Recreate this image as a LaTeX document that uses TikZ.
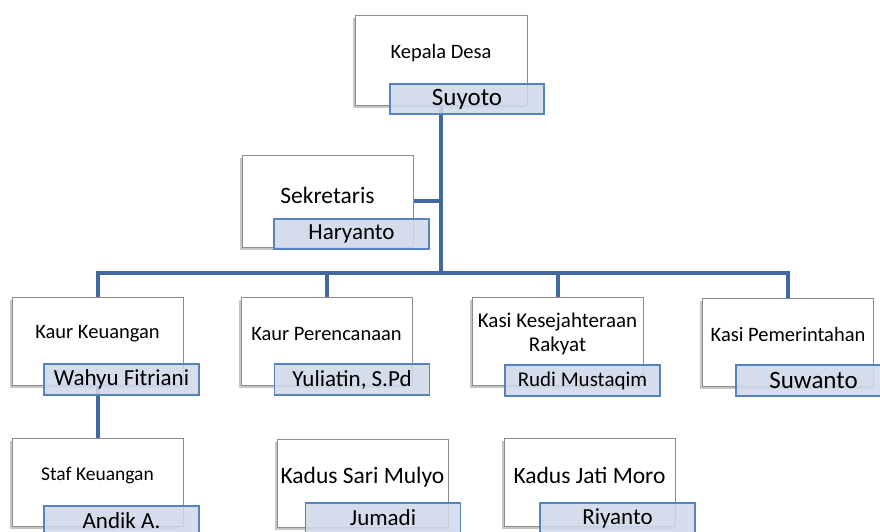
\documentclass[tikz,border=0pt]{standalone}
\usepackage{fontspec}
\setmainfont{Carlito}
\usetikzlibrary{shadows, backgrounds}

\definecolor{linkblue}{RGB}{66,104,160}
\definecolor{namefill}{RGB}{208,216,233}
\definecolor{nameline}{RGB}{84,132,192}

\tikzset{
  posbox/.style={draw=gray!90, fill=white, line width=0.9pt, minimum width=171pt, minimum height=88pt,
    drop shadow={shadow xshift=-2.5pt, shadow yshift=-2.5pt, opacity=.45}},
  namebox/.style={draw=nameline, fill=namefill, fill opacity=.88, text opacity=1, line width=1.1pt,
    minimum width=155pt, minimum height=30pt, inner sep=0pt},
  title/.style={align=center, inner sep=0pt},
  link/.style={draw=linkblue, line width=4pt}
}

\begin{document}
\begin{tikzpicture}[x=1pt, y=-1pt]
  \useasboundingbox (0,0) rectangle (880,531);

  % kepala desa dan sekretaris
  \node (kades) at (441,60) [posbox, minimum width=172pt, minimum height=90pt] {};
  \node (kades-t) at ([yshift=7pt]kades.center) [title, font=\fontsize{20.5}{24}\selectfont] {Kepala Desa};
  \node (kades-n) at (467,99) [namebox, minimum width=154pt, font=\fontsize{25}{30}\selectfont] {Suyoto};

  \node (sekre) at (327.5,201) [posbox, minimum height=92pt] {};
  \node (sekre-t) at ([yshift=6pt]sekre.center) [title, font=\fontsize{23.5}{28}\selectfont] {Sekretaris};
  \node (sekre-n) at (351.5,234) [namebox, font=\fontsize{23}{28}\selectfont] {Haryanto};

  % baris kaur / kasi
  \node (keu) at (97.5,341) [posbox] {};
  \node (keu-t) at ([yshift=7pt]keu.center) [title, font=\fontsize{20.5}{24}\selectfont] {Kaur Keuangan};
  \node (keu-n) at (121.5,379.5) [namebox, minimum height=31pt, font=\fontsize{23}{28}\selectfont] {Wahyu Fitriani};

  \node (per) at (326.5,341) [posbox] {};
  \node (per-t) at ([yshift=7pt]per.center) [title, font=\fontsize{20.5}{24}\selectfont] {Kaur Perencanaan};
  \node (per-n) at (352,379.5) [namebox, minimum height=31pt, font=\fontsize{23}{28}\selectfont] {Yuliatin, S.Pd};

  \node (kes) at (557.5,341) [posbox] {};
  \node (kes-t) at ([yshift=7pt]kes.center) [title, font=\fontsize{21}{24}\selectfont] {Kasi Kesejahteraan\\Rakyat};
  \node (kes-n) at (582.5,380.5) [namebox, minimum height=31pt, font=\fontsize{21}{26}\selectfont] {Rudi Mustaqim};

  \node (pem) at (788,342) [posbox] {};
  \node (pem-t) at ([yshift=8pt]pem.center) [title, font=\fontsize{20.5}{24}\selectfont] {Kasi Pemerintahan};
  \node (pem-n) at (813.5,380.5) [namebox, minimum height=31pt, font=\fontsize{25}{30}\selectfont] {Suwanto};

  % baris bawah
  \node (staf) at (97.5,482) [posbox] {};
  \node (staf-t) at ([yshift=7pt]staf.center) [title, font=\fontsize{19.5}{24}\selectfont] {Staf Keuangan};
  \node (staf-n) at (121.5,521) [namebox, font=\fontsize{23}{28}\selectfont] {Andik A.};

  \node (sari) at (362.5,483) [posbox] {};
  \node (sari-t) at ([yshift=6pt]sari.center) [title, font=\fontsize{23.5}{28}\selectfont] {Kadus Sari Mulyo};
  \node (sari-n) at (383,518) [namebox, font=\fontsize{23}{28}\selectfont] {Jumadi};

  \node (jati) at (589.5,482) [posbox] {};
  \node (jati-t) at ([yshift=7pt]jati.center) [title, font=\fontsize{23.5}{28}\selectfont] {Kadus Jati Moro};
  \node (jati-n) at (617.5,518) [namebox, font=\fontsize{23}{28}\selectfont] {Riyanto};

  \coordinate (hub) at (441,273);

  \begin{scope}[on background layer]
    \draw[link] (kades.south) -- (hub);
    \draw[link] (sekre.east) -- (sekre.east -| hub);
    \draw[link] (keu.north) |- (hub) -| (pem.north);
    \draw[link] (per.north) -- (per.north |- hub);
    \draw[link] (kes.north) -- (kes.north |- hub);
    \draw[link] (keu.south) -- (staf.north);
  \end{scope}
\end{tikzpicture}
\end{document}
